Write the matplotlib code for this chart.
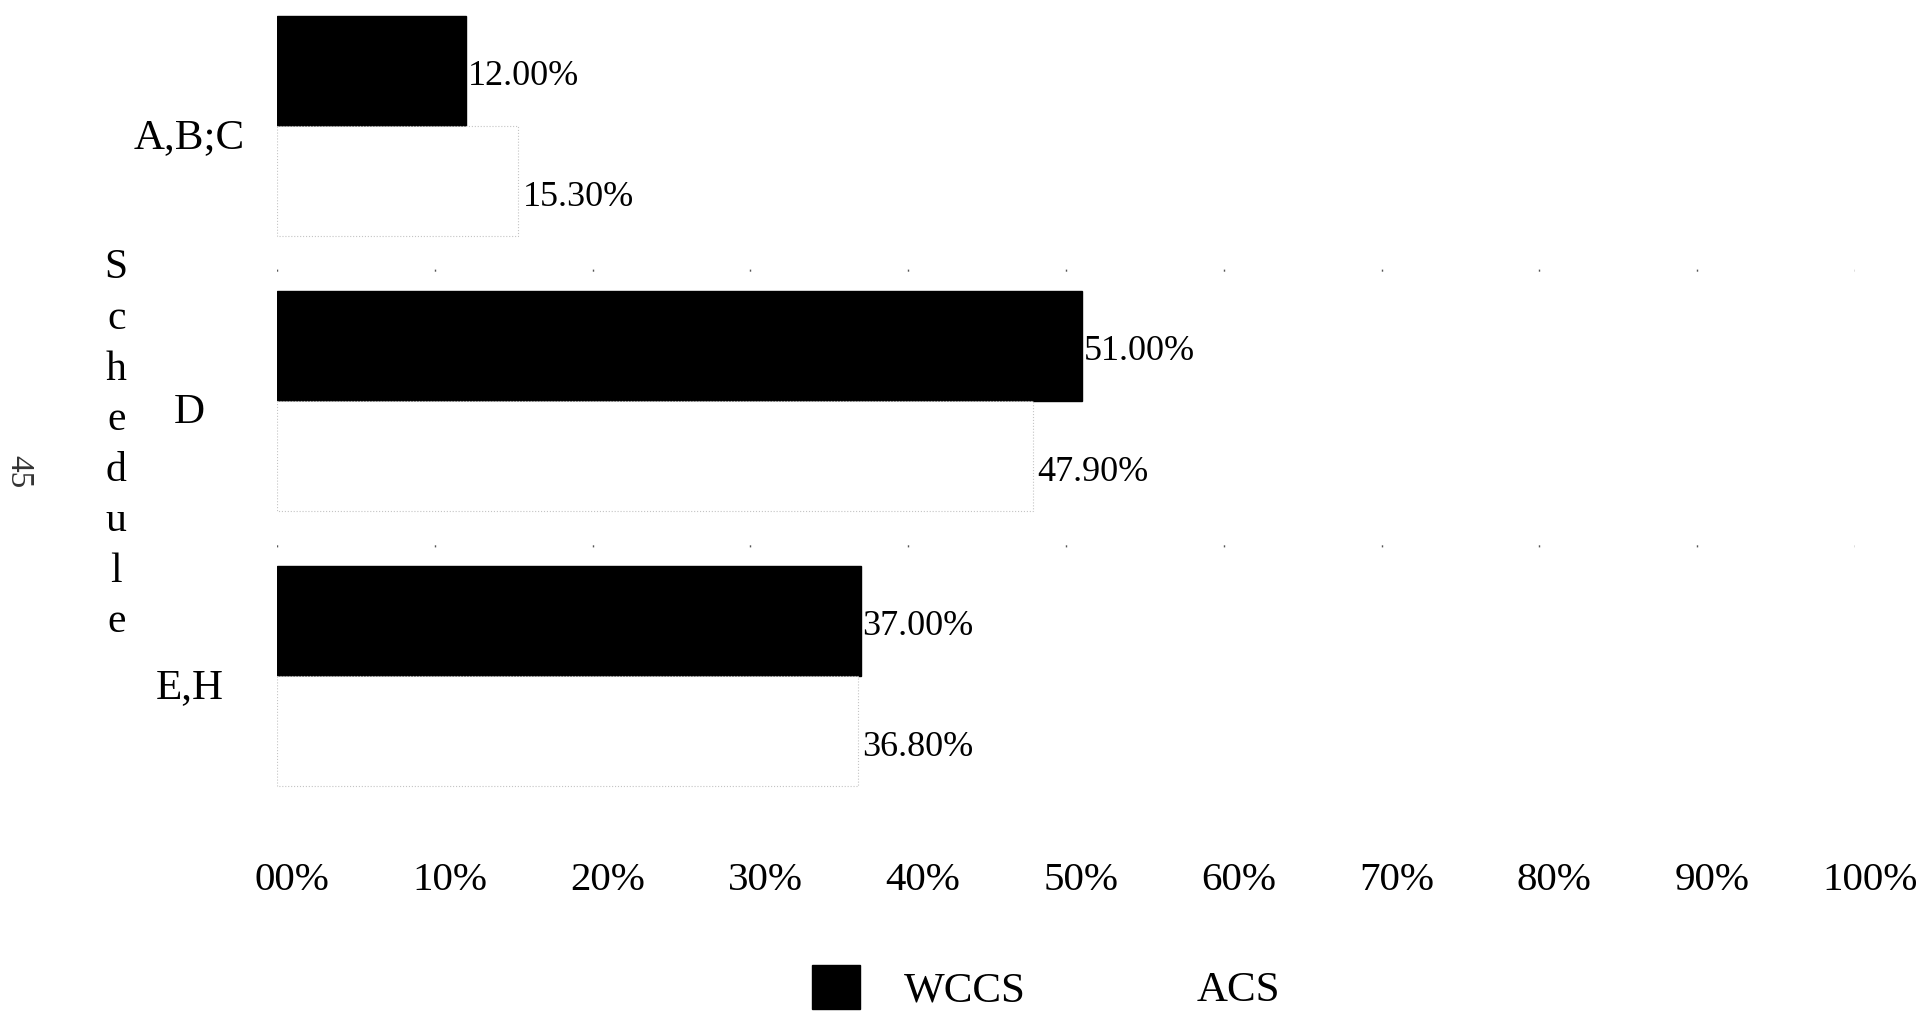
import matplotlib
matplotlib.use('Agg')
import numpy as np
import matplotlib.pyplot as plt
import matplotlib.patches as mpatches
import matplotlib.transforms as mtransforms

plt.rcParams['font.family'] = ['Liberation Serif', 'DejaVu Serif']

# ── data ─────────────────────────────────────────────────────────────────────
schedules  = ['A,B;C', 'D', 'E,H']
wccs_pct   = [12.0, 51.0, 37.0]
acs_pct    = [15.3, 47.9, 36.8]
tick_vals  = [0, 10, 20, 30, 40, 50, 60, 70, 80, 90, 100]
tick_lbls  = ['00%', '10%', '20%', '30%', '40%', '50%',
              '60%', '70%', '80%', '90%', '100%']
series     = ['WCCS', 'ACS']
# ─────────────────────────────────────────────────────────────────────────────

BAR_H = 0.4

fig = plt.figure(figsize=(19.21, 10.21), dpi=100)
ax = fig.add_axes([0.1442, 0.2086, 0.8214, 0.7854])

ypos = np.arange(len(schedules))

ax.barh(ypos - BAR_H / 2, wccs_pct, height=BAR_H, color='black',
        edgecolor='black', zorder=3)
ax.barh(ypos + BAR_H / 2, acs_pct, height=BAR_H, color='white',
        edgecolor='#c4c4c4', linewidth=0.8, linestyle=':', zorder=3)

for y, v in zip(ypos, wccs_pct):
    ax.text(v + 0.1, y - BAR_H / 2 + 0.02, f'{v:.2f}%', va='center',
            ha='left', fontsize=26)
for y, v in zip(ypos, acs_pct):
    ax.text(v + 0.3, y + BAR_H / 2 + 0.06, f'{v:.2f}%', va='center',
            ha='left', fontsize=26)

ax.set_xlim(0, 100)
ax.set_ylim(2.48, -0.437)

ax.set_xticks(tick_vals)
ax.set_xticklabels(tick_lbls, fontsize=29.5)
ax.tick_params(axis='x', length=0, pad=39)
shift = mtransforms.ScaledTranslation(0.15, 0, fig.dpi_scale_trans)
for lbl in ax.get_xticklabels():
    lbl.set_transform(lbl.get_transform() + shift)

ax.set_yticks(ypos)
ax.set_yticklabels(schedules, fontsize=31)
ax.tick_params(axis='y', length=0, pad=63)
for lbl in ax.get_yticklabels():
    lbl.set_horizontalalignment('center')
    lbl.set_transform(lbl.get_transform() +
                      mtransforms.ScaledTranslation(0, -0.07, fig.dpi_scale_trans))

# sparse dotted gridlines (mostly lost in the scan)
ax.xaxis.grid(True, color='#555555', linewidth=1.0,
              linestyle=(10.5, (1.5, 197)), zorder=1)
ax.set_axisbelow(True)

for sp in ax.spines.values():
    sp.set_visible(False)

# vertical "Schedule" axis title, one letter per line
fig.text(0.0605, 0.564, '\n'.join('Schedule'), ha='center', va='center',
         fontsize=30, linespacing=1.41)

# page number of the scanned page
fig.text(0.0095, 0.538, '45', rotation=-90, ha='center', va='center',
         fontsize=24, color='#333333')

handles = [mpatches.Patch(facecolor='black', edgecolor='black'),
           mpatches.Patch(facecolor='white', edgecolor='white')]
fig.legend(handles=handles, labels=series, ncol=2, loc='center',
           bbox_to_anchor=(0.5445, 0.033), frameon=False, fontsize=31,
           handlelength=1.13, handleheight=1.2, handletextpad=1.0,
           columnspacing=1.85)

fig.savefig('out.png', dpi=100)
plt.close(fig)
